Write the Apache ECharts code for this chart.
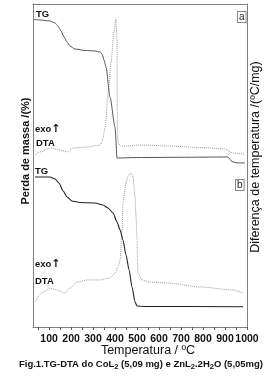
<!DOCTYPE html>
<html><head><meta charset="utf-8">
<script src="https://cdn.jsdelivr.net/npm/echarts@6/dist/echarts.min.js"></script>
<style>html,body{margin:0;padding:0;background:#fff}#c{width:266px;height:377px}</style>
</head><body><div id="c"></div>
<script>
// Panel a (CoL2) TG curve
const tgATemp = [32, 59, 104, 127, 141, 154, 168, 182, 195, 218, 264, 309, 332, 341, 350, 359, 377, 400, 409, 500, 700, 909, 914, 932, 955, 991];
const tgAMass = [99.6, 99.3, 98.6, 97.3, 95.2, 91.9, 87.9, 84.5, 81.8, 79.8, 78.8, 78.5, 77.8, 76.5, 72.4, 67.7, 47.6, 27.5, 6.7, 7.0, 7.2, 7.4, 7.2, 4.3, 3.4, 3.4];
// Panel a DTA curve
const dtaATemp = [36, 59, 104, 150, 182, 209, 273, 332, 341, 355, 368, 382, 395, 404, 409, 410, 411, 414, 427, 445, 514, 650, 786, 900, 936, 991];
const dtaAVal  = [7.9, 9.8, 12.2, 11.0, 9.8, 12.2, 12.8, 14.0, 15.9, 24.4, 44.5, 64.6, 82.9, 90.9, 78, 41.5, 21.3, 15.2, 13.4, 13.4, 14.0, 13.4, 12.5, 11.6, 9.1, 8.5];
// Panel b (ZnL2.2H2O) TG curve
const tgBTemp = [36, 104, 127, 145, 164, 182, 204, 241, 309, 345, 368, 391, 409, 423, 436, 450, 464, 477, 491, 500, 536, 982];
const tgBMass = [100, 100, 98.7, 96.0, 90.7, 86.7, 84.0, 83.0, 82.7, 81.3, 79.3, 76.0, 70.0, 64.7, 58.0, 48.0, 38.0, 26.7, 16.7, 14.0, 13.7, 13.5];
// Panel b DTA curve
const dtaBTemp = [36, 73, 104, 136, 173, 195, 227, 273, 332, 377, 400, 414, 423, 432, 436, 450, 459, 473, 482, 491, 495, 500, 502, 504, 523, 550, 636, 786, 936, 982];
const dtaBVal  = [15.9, 22.0, 24.5, 23.3, 21.4, 24.5, 28.3, 29.6, 29.6, 30.8, 34.0, 37.7, 42.1, 61.0, 78.0, 90.6, 95.0, 96.9, 94.3, 81.8, 70.4, 54.7, 40.9, 34.0, 29.6, 28.3, 27.7, 25.2, 23.3, 21.4];
// Axis ticks and labels
const xLabels = [100, 200, 300, 400, 500, 600, 700, 800, 900, 1000];
const xTicks = [50, 100, 150, 200, 250, 300, 350, 400, 450, 500, 550, 600, 650, 700, 750, 800, 850, 900, 950, 1000];

const zip = (a, b) => a.map((v, i) => [v, b[i]]);
const FONT = '"Liberation Sans", Arial, sans-serif';
const frame = { show: true, onZero: false, lineStyle: { color: '#808080', width: 1 } };

const chart = echarts.init(document.getElementById('c'), null, { renderer: 'canvas' });
const yBase = (grid, pos, max) => ({
  type: 'value', gridIndex: grid, position: pos, min: 0, max: max,
  axisLine: frame, axisTick: { show: false }, axisLabel: { show: false }, splitLine: { show: false }
});
const lineS = (x, y, data, color, type, width) => ({
  type: 'line', xAxisIndex: x, yAxisIndex: y, data: data, showSymbol: false, smooth: 0.25,
  smoothMonotone: 'x', lineStyle: { color: color, type: type, width: width }, silent: true, animation: false
});
const exoRich = { a: { font: 'bold 11px "DejaVu Sans", sans-serif', fill: '#111' } };

chart.setOption({
  animation: false,
  grid: [
    { left: 33, right: 19, top: 4, height: 164 },
    { left: 33, right: 19, top: 168, height: 159 }
  ],
  xAxis: [
    { type: 'value', gridIndex: 0, position: 'top', min: 27, max: 1000,
      axisLine: frame, axisTick: { show: false }, axisLabel: { show: false }, splitLine: { show: false } },
    { type: 'value', gridIndex: 1, position: 'bottom', min: 27, max: 1000,
      axisLine: frame, splitLine: { show: false },
      axisTick: { show: true, customValues: xTicks, length: 3, lineStyle: { color: '#555' } },
      axisLabel: { customValues: xLabels, formatter: v => String(v), fontFamily: FONT, fontWeight: 'bold', fontSize: 10.5, color: '#111', margin: 7 } }
  ],
  yAxis: [yBase(0, 'left', 110), yBase(0, 'right', 100), yBase(1, 'left', 106), yBase(1, 'right', 100)],
  series: [
    lineS(0, 1, zip(dtaATemp, dtaAVal), '#9a9a9a', 'dotted', 1),
    lineS(0, 0, zip(tgATemp, tgAMass), '#555555', 'solid', 1),
    lineS(1, 3, zip(dtaBTemp, dtaBVal), '#9a9a9a', 'dotted', 1),
    lineS(1, 2, zip(tgBTemp, tgBMass), '#222222', 'solid', 1.1)
  ],
  graphic: [
    { type: 'text', left: 36, top: 9, style: { text: 'TG', font: 'bold 9.5px ' + FONT, fill: '#111' } },
    { type: 'text', left: 35, top: 124, style: { text: 'exo{a|↑}', font: 'bold 9.5px ' + FONT, fill: '#111', rich: exoRich } },
    { type: 'text', left: 36, top: 138, style: { text: 'DTA', font: 'bold 9.5px ' + FONT, fill: '#111' } },
    { type: 'text', left: 35, top: 166, style: { text: 'TG', font: 'bold 9.5px ' + FONT, fill: '#111' } },
    { type: 'text', left: 35, top: 259, style: { text: 'exo{a|↑}', font: 'bold 9.5px ' + FONT, fill: '#111', rich: exoRich } },
    { type: 'text', left: 35, top: 276, style: { text: 'DTA', font: 'bold 9.5px ' + FONT, fill: '#111' } },
    { type: 'text', left: 237, top: 11, style: { text: 'a', font: '10px ' + FONT, fill: '#222', borderColor: '#888', borderWidth: 1, padding: [0, 1, 0, 1], backgroundColor: '#fff' } },
    { type: 'text', left: 235, top: 179, style: { text: 'b', font: '10px ' + FONT, fill: '#222', borderColor: '#888', borderWidth: 1, padding: [0, 1, 0, 1], backgroundColor: '#fff' } },
    { type: 'text', x: 26, y: 151, rotation: Math.PI / 2,
      style: { text: 'Perda de massa /(%)', font: 'bold 11px ' + FONT, fill: '#111', align: 'center', verticalAlign: 'middle' } },
    { type: 'text', x: 256, y: 157, rotation: Math.PI / 2,
      style: { text: 'Diferença de temperatura /(ºC/mg)', font: '12.5px ' + FONT, fill: '#111', align: 'center', verticalAlign: 'middle' } },
    { type: 'text', x: 148, y: 351,
      style: { text: 'Temperatura / ºC', font: '12.5px ' + FONT, fill: '#111', align: 'center', verticalAlign: 'middle' } },
    { type: 'text', x: 141, y: 364,
      style: { text: 'Fig.1.TG-DTA do CoL{s|2} (5,09 mg) e ZnL{s|2}.2H{s|2}O (5,05mg)', font: 'bold 9.5px ' + FONT, fill: '#111', align: 'center', verticalAlign: 'middle',
        rich: { s: { font: 'bold 7.5px ' + FONT, fill: '#111', padding: [5, 0, 0, 0] } } } }
  ]
});
</script></body></html>
